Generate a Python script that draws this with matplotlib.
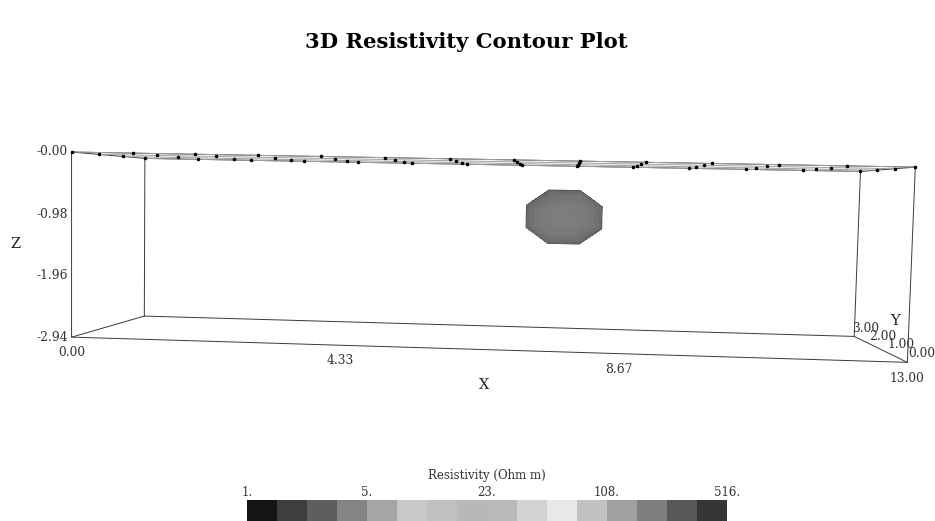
import numpy as np
import matplotlib
matplotlib.use("Agg")
import matplotlib.pyplot as plt
from matplotlib.colors import ListedColormap
from mpl_toolkits.mplot3d import proj3d

# model box (m)
x_range = [0.0, 13.0]
y_range = [0.0, 3.0]
z_range = [-2.94, 0.0]

x_ticks = [0.0, 4.33, 8.67, 13.0]
y_ticks = [0.0, 1.0, 2.0, 3.0]
z_ticks = [0.0, -0.98, -1.96, -2.94]
z_tick_labels = ["-0.00", "-0.98", "-1.96", "-2.94"]

# electrode grid on the surface
elec_x = [0, 1, 2, 3, 4, 5, 6, 7, 8, 9, 10, 11, 12, 13]
elec_y = [0, 1, 2, 3]

# isosurface of the anomaly (roughly an ellipsoid)
anomaly_center = [7.78, 1.5, -0.89]
anomaly_radii = [0.68, 0.5, 0.48]

# colour scale
res_cells = ["#141414", "#3e3e3e", "#5e5e5e", "#848484", "#a5a5a5", "#c8c8c8",
             "#c0c0c0", "#b8b8b8", "#b9b9b9", "#d2d2d2", "#e8e8e8", "#c2c2c2",
             "#a0a0a0", "#7e7e7e", "#585858", "#363636"]
res_tick_labels = ["1.", "5.", "23.", "108.", "516."]

serif = "DejaVu Serif"

fig = plt.figure(figsize=(9.35, 5.21), dpi=100)
fig.text(0.499, 1 - 42 / 521, "3D Resistivity Contour Plot", ha="center", va="center",
         fontsize=15.2, fontweight="bold", family=serif)

ax = fig.add_axes([0.065, 0.126, 0.9, 0.768], projection="3d")
ax.set_xlim(*x_range)
ax.set_ylim(*y_range)
ax.set_zlim(*z_range)
ax.set_xticks([])
ax.set_yticks([])
ax.set_zticks([])
ax.set_box_aspect((13, 3, 2.94), zoom=1.97)
ax.set_proj_type("persp", focal_length=0.50)
ax.view_init(elev=3, azim=-86, roll=-1.15)
ax.set_axis_off()

arts = []
edge_kw = dict(color="#3a3a3a", lw=0.7)
for y in y_range:
    for z in z_range:
        arts += ax.plot(x_range, [y, y], [z, z], **edge_kw)
for x in x_range:
    for z in z_range:
        arts += ax.plot([x, x], y_range, [z, z], **edge_kw)
for x in x_range:
    for y in y_range:
        arts += ax.plot([x, x], [y, y], z_range, **edge_kw)

# survey lines and electrodes
for y in elec_y:
    arts += ax.plot([elec_x[0], elec_x[-1]], [y, y], [0, 0], color="#a0a0a0", lw=0.7)
ex, ey = np.meshgrid(elec_x, elec_y)
arts.append(ax.scatter(ex.ravel(), ey.ravel(), np.zeros(ex.size), s=2.5, c="k",
                       depthshade=False))

# anomaly, shaded by how much each facet faces the viewer
cx, cy, cz = anomaly_center
rx, ry, rz = anomaly_radii
u = np.linspace(np.pi / 8, 2 * np.pi + np.pi / 8, 9)
v = np.linspace(0, np.pi, 15)
uu, vv = np.meshgrid(u, v)
sx, sy, sz = np.sin(vv) * np.cos(uu), -np.cos(vv), np.sin(vv) * np.sin(uu)
normal = np.stack([sx / rx, sy / ry, sz / rz])
normal /= np.linalg.norm(normal, axis=0)
facing = np.clip(-normal[1], 0, 1) ** 0.8
g = 0.30 + 0.19 * facing
fc = np.stack([g, g, g, np.ones_like(g)], axis=-1)
arts.append(ax.plot_surface(cx + rx * sx, cy + ry * sy, cz + rz * sz, facecolors=fc,
                            shade=False, linewidth=0, antialiased=False))
arts += ax.plot(cx + rx * np.cos(u), np.full(u.size, cy), cz + rz * np.sin(u),
                color="#474747", lw=0.9)
for a in arts:
    a.set_clip_on(False)

# labels: project the 3D anchor with the axes' own camera, then place as 2D text
M = ax.get_proj()


def label3d(x, y, z, s, **kw):
    px, py, _ = proj3d.proj_transform(x, y, z, M)
    ax.text2D(px, py, s, transform=ax.transData, **kw)


tk = dict(fontsize=8.8, family=serif, color="#333333")
for z, lab in zip(z_ticks, z_tick_labels):
    label3d(x_range[0] - 0.06, y_range[0], z, lab, ha="right", va="center", **tk)
for x in x_ticks:
    label3d(x, y_range[0], z_range[0] - 0.24, f"{x:.2f}", ha="center", va="center", **tk)
for y in y_ticks:
    label3d(x_range[1] + 0.2, y, z_range[0] + 0.14, f"{y:.2f}", ha="center", va="center", **tk)
lk = dict(fontsize=10.5, family=serif, color="#222222")
label3d(6.6, y_range[0], z_range[0] - 0.55, "X", ha="center", va="center", **lk)
label3d(x_range[1] + 0.55, 2.5, z_range[0] + 0.35, "Y", ha="center", va="center", **lk)
label3d(x_range[0] - 0.92, y_range[0], -1.47, "Z", ha="center", va="center", **lk)

# colour bar
cax = fig.add_axes([247 / 935, -10 / 521, 480 / 935, 31 / 521])
cax.imshow(np.arange(len(res_cells))[None, :], cmap=ListedColormap(res_cells),
           aspect="auto", extent=(0, len(res_cells), 0, 1), interpolation="nearest")
cax.set_xticks(np.arange(0, len(res_cells) + 1, 4), res_tick_labels)
cax.set_yticks([])
cax.xaxis.tick_top()
cax.tick_params(axis="x", length=0, pad=1, labelsize=8.5, labelcolor="#333333")
for t in cax.get_xticklabels():
    t.set_family(serif)
for s in cax.spines.values():
    s.set_visible(False)
fig.text(487 / 935, 1 - 476 / 521, "Resistivity (Ohm m)", ha="center", va="center",
         fontsize=8.5, family=serif, color="#333333")

fig.savefig("out.png", dpi=100)
